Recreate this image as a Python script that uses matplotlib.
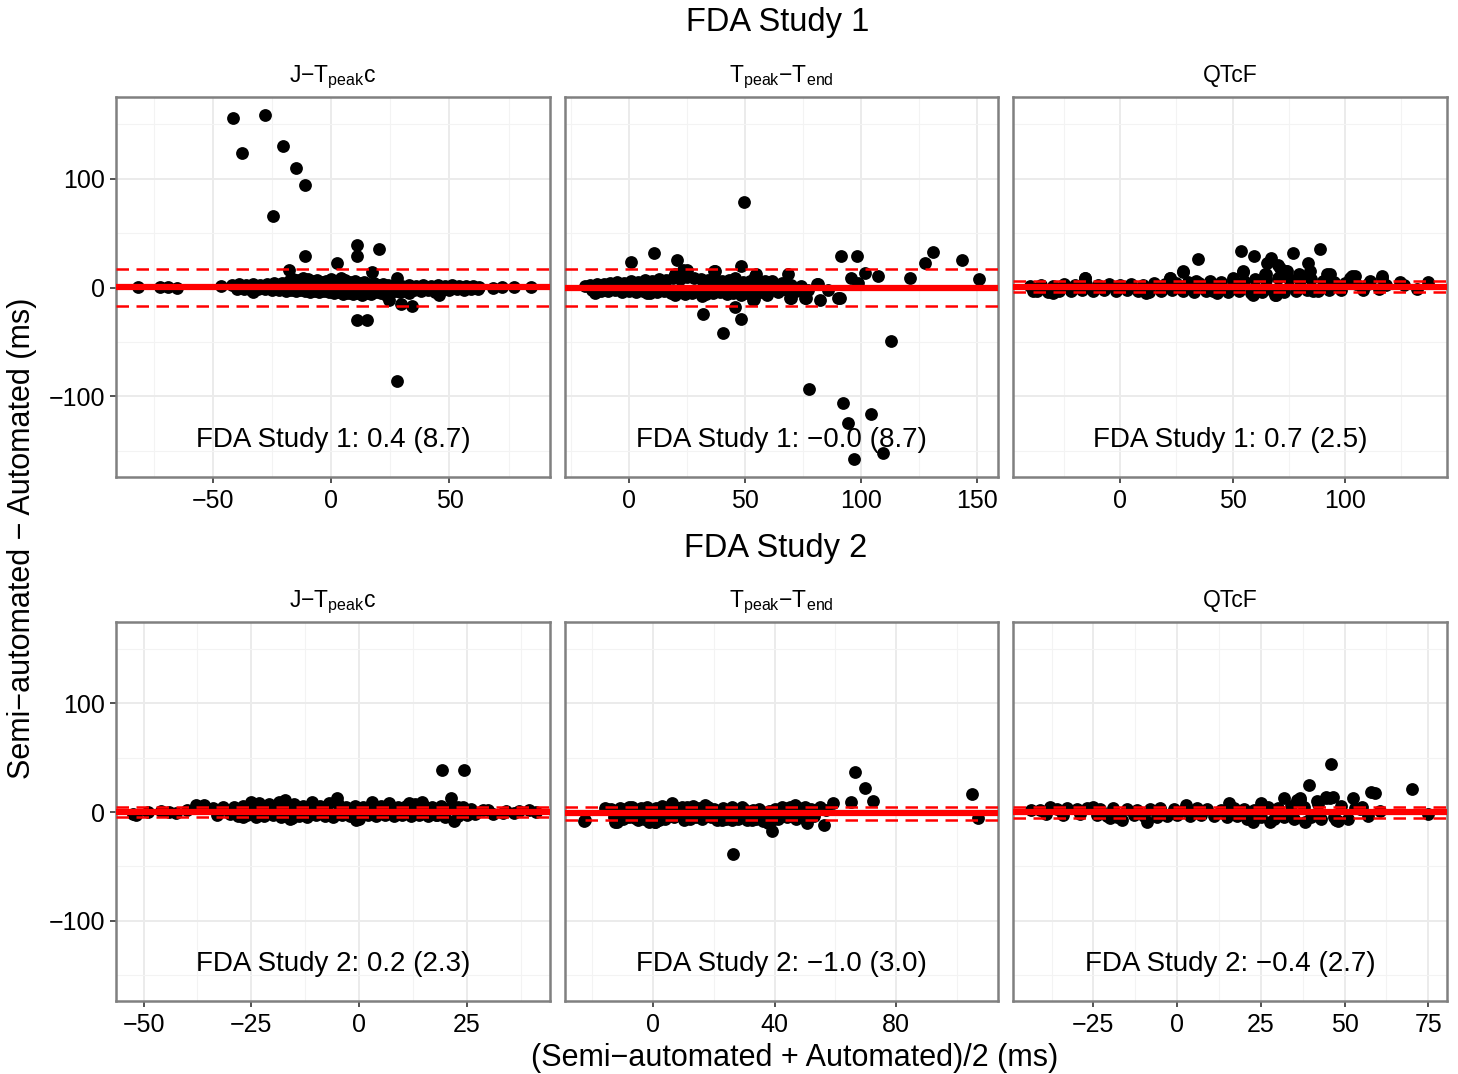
import matplotlib
matplotlib.use("Agg")
import matplotlib.pyplot as plt
from matplotlib.ticker import FixedLocator

plt.rcParams['font.family'] = ['Liberation Sans', 'DejaVu Sans']
plt.rcParams['mathtext.fontset'] = 'custom'
plt.rcParams['mathtext.rm'] = 'Liberation Sans'
plt.rcParams['mathtext.it'] = 'Liberation Sans:italic'
plt.rcParams['mathtext.bf'] = 'Liberation Sans:bold'

# ---------------- data ----------------
study_titles = ["FDA Study 1", "FDA Study 2"]
panel_titles = ["J\u2212T$_{\\mathregular{peak}}$c",
                "T$_{\\mathregular{peak}}$\u2212T$_{\\mathregular{end}}$",
                "QTcF"]

means = [[0.4, -0.0, 0.7], [0.2, -1.0, -0.4]]
sds = [[8.7, 8.7, 2.5], [2.3, 3.0, 2.7]]
annot = [["FDA Study 1: 0.4 (8.7)", "FDA Study 1: \u22120.0 (8.7)", "FDA Study 1: 0.7 (2.5)"],
         ["FDA Study 2: 0.2 (2.3)", "FDA Study 2: \u22121.0 (3.0)", "FDA Study 2: \u22120.4 (2.7)"]]

# Study 1, J-Tpeakc
s1_jt_x = [-81.7, -72.6, -68.9, -65.1, -46.8, -41.5, -28.1, -37.6, -20.4, -14.9, -11.3, -24.6,
           11.1, 10.7, 20.4, -11.0, 2.5, -17.7, 17.3, 28.0, 11.0, 15.3, 28.0, 24.6, 29.5, 34.2,
           -33.0, 45.4, 62.5, 68.5, 72.4, 77.3, 84.3,
           -42, -39, -36, -33, -30, -27, -24, -21, -18, -16, -14, -12, -10, -8, -6, -4, -2, 0, 2, 4,
           6, 8, 10, 12, 14, 16, 18, 20, 22, 24, 27, 30, 33, 36, 39, 42, 45, 48, 51, 54, 57, 60,
           -40, -37, -34, -31, -28, -25, -22, -19, -17, -15, -13, -11, -9, -7, -5, -3, -1, 1, 3, 5,
           7, 9, 11, 13, 15, 17, 19, 21, 23, 25, 27, 29, 31, 33, 35, 38, 41, 44, 47, 50, 53, 56, 59, 62]
s1_jt_y = [0.6, 0.5, 0.4, -0.5, 1.0, 155.7, 158.4, 124.0, 129.6, 109.8, 94.5, 66.0,
           39.1, 28.7, 35.8, 28.7, 22.6, 16.5, 14.0, 8.6, -29.4, -29.4, -86.0, -11.0, -15.0, -16.5,
           -4.3, -6.4, 0.5, -0.3, 0.4, 0.6, 0.2,
           2, 3, 2, 3, 2, 3, 4, 4, 6, 8, 7, 9, 8, 6, 7, 5, 6, 8, 6, 9,
           7, 5, 6, 4, 5, 3, 4, 2, 3, 2, 2, 1, 2, 1, 2, 1, 2, 1, 2, 1, 1, 1,
           -1, -1, -2, -1, -1, -2, -2, -3, -2, -3, -2, -3, -4, -3, -4, -3, -4, -5, -4, -6,
           -5, -6, -5, -7, -5, -6, -4, -5, -7, -5, -3, -4, -3, -5, -2, -3, -2, -4, -2, -2, -1, -2, -1, -1]

# Study 1, Tpeak-Tend
s1_tp_x = [49.4, 0.9, 10.6, 20.7, 48.3, 68.7, 91.4, 98.4, 130.9, 127.6, 143.4, 150.9, 121.0,
           107.5, 101.7, 95.6, 98.6, 90.7, 82.3, 76.2, 69.7, 31.8, 40.4, 45.6, 48.4, 77.7, 92.4,
           104.3, 94.3, 109.6, 97.0, 112.8, 53.9, 59.3, 81.2, 85.9, 23.4, 36.6, 54.7,
           -19.0, -14.7, 7.6, 19.8, 19.8, 24.9, 31.3, 37.1, 45.6, 48.4, 53.6, 54.3, 58.6, 59.3,
           61.5, 69.4, 75.9, 81.6, 90.2,
           -17, -14, -11, -8, -5, -2, 1, 4, 7, 10, 13, 16, 19, 22, 25, 28, 31, 34, 37, 40, 43, 46,
           49, 52, 55, 58, 62, 66, 70, 74,
           -16, -12, -9, -6, -3, 0, 3, 6, 9, 12, 15, 18, 21, 24, 27, 30, 33, 36, 39, 42, 45, 48,
           51, 54, 57, 60, 64, 68, 72, 77]
s1_tp_y = [78.3, 23.6, 31.5, 25.0, 20.2, 12.5, 29.0, 29.0, 32.7, 22.3, 25.4, 8.3, 8.9,
           10.4, 13.5, 8.9, 4.3, -10.0, -11.6, -10.0, -10.0, -24.2, -42.2, -17.7, -28.7, -93.6,
           -106.4, -115.9, -124.2, -151.7, -157.2, -49.2, -10.4, -5.5, 2.8, -1.8, 16.5, 15.0, 12.5,
           1.2, -4.9, -4.9, 12.0, -6.4, 16.5, -8.0, 15.0, 9.0, -6.4, -11.0, 10.4, 5.8, -6.4,
           5.8, -9.5, -9.5, 2.8, -9.5,
           2, 3, 3, 4, 5, 4, 6, 5, 7, 6, 8, 7, 9, 8, 10, 9, 8, 7, 8, 6, 7, 6,
           5, 6, 4, 5, 3, 4, 2, 1,
           -2, -3, -3, -2, -4, -3, -4, -3, -5, -4, -3, -5, -4, -6, -5, -4, -6, -5, -4, -6, -5, -4,
           -5, -3, -4, -3, -4, -2, -3, -2]

# Study 1, QTcF
s1_qt_x = [53.6, 59.7, 67.0, 77.0, 88.7, 34.5, 83.7, 65.5, 70.4, 74.1, 64.4, 54.5, 27.9, 22.2,
           -15.6, 103.0, 116.3, 124.4, 136.7, 68.9, 58.5, 79.3, 91.9,
           -38.7, -29.8, -15.7, 11.7, 22.1, 28.0, 33.9, 41.3, 50.2, 54.7, 59.1, 65.0, 71.0, 69.5,
           73.9, 79.8, 84.3, 85.7, 93.1, 102.1, 104.3, 111.0, 116.2,
           -40, -35, -30, -25, -20, -15, -10, -5, 0, 5, 10, 15, 20, 25, 30, 35, 40, 45, 50, 55, 60,
           65, 70, 75, 80, 85, 90, 95, 100, 105, 110, 118, 126,
           -37, -32, -27, -22, -17, -12, -7, -2, 3, 8, 13, 18, 23, 28, 33, 38, 43, 48, 53, 58, 63,
           68, 73, 78, 83, 88, 93, 98, 108, 115, 132]
s1_qt_y = [33.9, 28.7, 27.2, 31.8, 35.5, 26.0, 22.6, 22.6, 21.0, 15.0, 12.0, 14.0, 14.0, 8.9,
           8.9, 10.4, 10.4, 4.9, 4.9, -6.4, -4.3, 12.0, 12.8,
           -3.4, -4.9, 8.9, -4.9, 8.9, 15.0, 5.8, -3.4, 8.9, 15.0, -6.4, 12.0, 18.0, -6.4,
           15.0, 8.9, 15.0, -3.4, 12.0, 8.9, 10.4, 5.8, 8.9,
           1, 2, 1, 3, 2, 3, 2, 3, 2, 3, 2, 4, 3, 4, 5, 4, 6, 5, 7, 6, 8,
           7, 9, 8, 7, 8, 6, 5, 4, 3, 3, 2, 2,
           -3, -4, -3, -3, -2, -3, -2, -3, -2, -3, -4, -3, -2, -3, -4, -3, -5, -4, -3, -5, -4,
           -3, -4, -3, -2, -3, -2, -2, -2, -1, -1]

# Study 2, J-Tpeakc
s2_jt_x = [19.3, 24.4, 21.3, -5.2, 22.1, -0.8, -52.4,
           -51.7, -42.5, -37.8, -35.9, -31.6, -27.0, -25.0, -23.2, -18.6, -17.1, -15.5, -10.9,
           -6.9, 3.1, 7.0, 11.6, 14.7, 17.8, 24.0, 28.7, 33.3, 39.5,
           -49, -46, -44, -40, -34, -32, -29, -27, -25, -23, -21, -19, -17, -15, -13, -11, -9, -7,
           -5, -3, -1, 1, 3, 5, 7, 9, 11, 13, 15, 17, 19, 21, 23, 26, 30, 34, 37, 41,
           -33, -30, -28, -26, -24, -22, -20, -18, -16, -14, -12, -10, -8, -6, -4, -2, 0, 2, 4, 6,
           8, 10, 12, 14, 16, 18, 20, 23, 25, 27, 31, 36]
s2_jt_y = [38.7, 38.7, 12.6, 12.6, -8.0, -7.4, -1.8,
           -2.8, -1.2, 6.5, 6.5, 4.9, -4.3, 9.5, 8.0, 9.5, 11.0, -5.8, 9.5,
           -2.8, 9.5, 8.0, 8.0, 9.5, -2.8, 5.0, 1.8, -1.2, 1.8,
           0, 1, 0, 2, 4, 3, 5, 6, 7, 6, 7, 6, 8, 7, 6, 7, 6, 8,
           7, 5, 6, 5, 7, 6, 7, 5, 6, 7, 6, 5, 6, 4, 5, 3, 2, 1, 1, 0,
           -3, -2, -4, -3, -5, -4, -3, -5, -6, -4, -5, -3, -4, -5, -3, -4, -6, -3, -4, -3,
           -4, -3, -4, -3, -4, -3, -5, -4, -3, -2, -2, -1]

# Study 2, Tpeak-Tend
s2_tp_x = [66.4, 69.8, 72.3, 65.1, 105.0, 107.0, 26.4, 39.2, 56.3, 50.7, 59.3, -22.7, -11.9,
           -1.2, 0.6, -15.2,
           -22.4, -15.8, -12.5, -8.1, -5.9, 0.7, 6.1, 9.4, 17.1, 22.6, 25.8, 29.1, 32.4, 37.9,
           42.3, 46.7, 50.0, 54.9,
           -14, -11, -9, -7, -4, -2, 1, 3, 5, 8, 11, 13, 15, 18, 20, 23, 27, 30, 33, 35, 38, 40,
           43, 45, 48, 52, 57,
           -13, -10, -8, -5, -3, 0, 2, 4, 7, 10, 12, 14, 16, 19, 21, 24, 26, 28, 31, 34, 36, 39,
           41, 44, 47, 49, 53]
s2_tp_y = [36.6, 21.8, 10.1, 9.5, 16.6, -5.8, -39.0, -17.2, -12.0, -10.4, 8.0, -8.0, -9.5,
           -9.5, -9.5, 2.5,
           -7.4, 3.4, -8.9, 5.1, -5.7, -8.9, 8.0, 5.0, 6.5, -7.4, 5.0, 5.0, -7.4, -10.4,
           4.9, 6.5, 5.0, 5.0,
           3, 4, 3, 5, 4, 5, 4, 6, 5, 4, 5, 6, 4, 5, 3, 4, 2, 3, 2, 3, 1, 3,
           4, 5, 4, 3, 2,
           -5, -6, -5, -7, -6, -5, -7, -6, -5, -7, -6, -5, -6, -5, -7, -6, -7, -6, -7, -6, -8, -7,
           -6, -5, -6, -5, -4]

# Study 2, QTcF
s2_qt_x = [45.9, 39.4, 70.2, 58.0, 59.1, 52.5, 45.7, 44.4, 32.0, 35.7, 36.7, 41.8, 25.1, 15.6,
           48.1, 38.2, 22.6, -9.0, -16.5, 75.0, 60.6, 54.6,
           -43.5, -37.9, -25.1, -20.1, 2.8, 27.6, 36.6, 44.6, 46.6, 47.6, 55.1,
           -41, -36, -33, -30, -27, -23, -19, -15, -12, -8, -5, -1, 2, 6, 9, 13, 17, 20, 23, 27,
           30, 34, 38, 42, 49, 53,
           -39, -34, -29, -24, -21, -18, -13, -10, -6, -3, 0, 4, 7, 11, 15, 18, 21, 25, 29, 32,
           35, 40, 43, 47, 51, 57]
s2_qt_y = [44.0, 24.9, 20.9, 18.7, 17.7, 13.2, 13.2, 13.0, 12.6, 11.0, 11.0, 10.6, 8.6, 8.0,
           -8.3, -9.5, -8.9, -9.5, -7.4, -1.8, 0.7, 2.9,
           1.8, 4.9, 4.9, -5.8, 6.5, -8.9, 12.6, 14.0, 14.0, -7.4, 4.9,
           2, 3, 4, 3, 4, 3, 4, 3, 2, 3, 4, 3, 2, 4, 3, 2, 4, 3, 2, 5,
           4, 6, 5, 7, 6, 4,
           -2, -3, -2, -3, -4, -5, -3, -4, -5, -4, -3, -4, -3, -4, -5, -4, -6, -5, -6, -5,
           -6, -5, -6, -5, -6, -4]

panel_x = [[s1_jt_x, s1_tp_x, s1_qt_x], [s2_jt_x, s2_tp_x, s2_qt_x]]
panel_y = [[s1_jt_y, s1_tp_y, s1_qt_y], [s2_jt_y, s2_tp_y, s2_qt_y]]

x_limits = [[(-91, 92.5), (-27.6, 159), (-47.6, 145.3)],
            [(-56.4, 44.3), (-29, 113.5), (-49, 80.6)]]
x_major = [[[-50, 0, 50], [0, 50, 100, 150], [0, 50, 100]],
           [[-50, -25, 0, 25], [0, 40, 80], [-25, 0, 25, 50, 75]]]
x_minor = [[[-75, -25, 25, 75], [-25, 25, 75, 125], [-25, 25, 75, 125]],
           [[-37.5, -12.5, 12.5, 37.5], [-20, 20, 60, 100], [-37.5, -12.5, 12.5, 37.5, 62.5]]]
y_major = [-100, 0, 100]
y_minor = [-150, -50, 50, 150]
y_limits = (-174, 175)
annot_y = -140

# ---------------- figure ----------------
W, H = 1458, 1074
fig = plt.figure(figsize=(W / 100, H / 100), dpi=100)

col_px = [(116, 550), (565, 998), (1013, 1447)]
row_px = [(97, 477), (622, 1001)]

for r in range(2):
    for c in range(3):
        l, rr = col_px[c]
        t, b = row_px[r]
        ax = fig.add_axes([l / W, 1 - b / H, (rr - l) / W, (b - t) / H])
        ax.set_xlim(*x_limits[r][c])
        ax.set_ylim(*y_limits)
        ax.xaxis.set_major_locator(FixedLocator(x_major[r][c]))
        ax.xaxis.set_minor_locator(FixedLocator(x_minor[r][c]))
        ax.yaxis.set_major_locator(FixedLocator(y_major))
        ax.yaxis.set_minor_locator(FixedLocator(y_minor))
        ax.grid(True, which='major', color='#EBEBEB', lw=1.4, zorder=0)
        ax.grid(True, which='minor', color='#F3F3F3', lw=0.8, zorder=0)
        ax.set_axisbelow(True)
        ax.tick_params(which='minor', length=0)
        ax.tick_params(which='major', length=4, width=1.2, color='#333333',
                       labelsize=18, labelcolor='black', pad=4)
        ax.tick_params(axis='x', which='major', pad=5)
        if c > 0:
            ax.tick_params(axis='y', which='both', left=False, labelleft=False)
        for sp in ax.spines.values():
            sp.set_color('#808080')
            sp.set_linewidth(1.8)

        ax.scatter(panel_x[r][c], panel_y[r][c], s=85, c='black', linewidths=0, zorder=2)
        m = means[r][c]
        sd = sds[r][c]
        ax.axhline(m, color='#FF0000', lw=4.5, zorder=3)
        ax.axhline(m + 1.96 * sd, color='#FF0000', lw=1.8, ls=(0, (5, 3)), zorder=3)
        ax.axhline(m - 1.96 * sd, color='#FF0000', lw=1.8, ls=(0, (5, 3)), zorder=3)
        ax.text(0.5, annot_y, annot[r][c], transform=ax.get_yaxis_transform(),
                ha='center', va='center', fontsize=20, color='black', zorder=4)
        ax.set_title(panel_titles[c], fontsize=16.5, pad=11)

fig.text(778 / W, 1 - 22 / H, study_titles[0], ha='center', va='center', fontsize=23.5)
fig.text(776 / W, 1 - 548 / H, study_titles[1], ha='center', va='center', fontsize=23.5)
fig.text(22 / W, 1 - 538 / H, "Semi\u2212automated \u2212 Automated (ms)", rotation=90,
         ha='center', va='center', fontsize=22)
fig.text(795 / W, 1 - 1058 / H, "(Semi\u2212automated + Automated)/2 (ms)",
         ha='center', va='center', fontsize=22)

fig.savefig("out.png", dpi=100)
